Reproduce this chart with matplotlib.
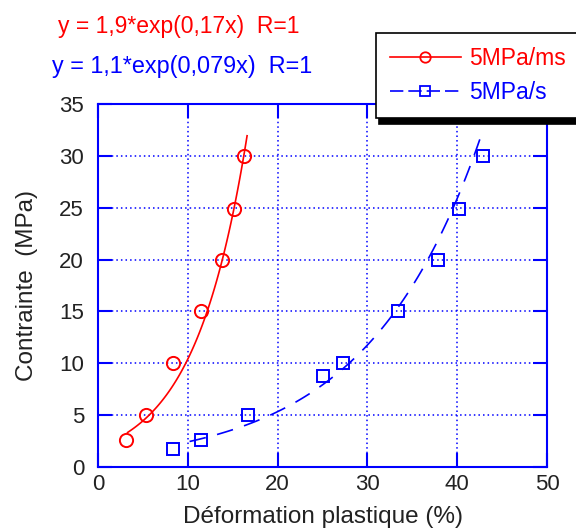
import numpy as np
import matplotlib
matplotlib.use("Agg")
import matplotlib.pyplot as plt

plt.rcParams['font.family'] = ['Liberation Sans', 'DejaVu Sans']

# measured points
red_x = [3.1, 5.4, 8.4, 11.5, 13.8, 15.1, 16.3]
red_y = [2.6, 5.0, 10.0, 15.0, 20.0, 24.9, 30.0]
blue_x = [8.4, 11.5, 16.7, 25.0, 27.3, 33.4, 37.8, 40.2, 42.8]
blue_y = [1.7, 2.6, 5.0, 8.8, 10.0, 15.0, 20.0, 24.9, 30.0]

# exponential fits as written on the chart: y = a*exp(b*x)
red_fit = (1.9, 0.17)
blue_fit = (1.1, 0.079)
red_range = (3.3, 16.6)
blue_range = (10.2, 42.9)

labels = ['5MPa/ms', '5MPa/s']
blue = '#0000ff'
red = '#ff0000'
txt = '#222222'

fig = plt.figure(figsize=(5.76, 5.28), dpi=100)
ax = fig.add_axes([0.170, 0.1155, 0.780, 0.6875])

# fit curves
xr = np.linspace(*red_range, 100)
ax.plot(xr, red_fit[0] * np.exp(red_fit[1] * xr), color=red, lw=1.2)
xb = np.linspace(*blue_range, 100)
ax.plot(xb, blue_fit[0] * np.exp(blue_fit[1] * xb), color=blue, lw=1.2,
        dashes=(10, 7))

# markers
ax.plot(red_x, red_y, 'o', ms=9.5, mfc='none', mec=red, mew=1.4)
ax.plot(blue_x, blue_y, 's', ms=9, mfc='none', mec=blue, mew=1.4)

# legend handles
h1, = ax.plot([], [], color=red, lw=1.2, marker='o', ms=7.5, mfc='none', mew=1.3)
h2, = ax.plot([], [], color=blue, lw=1.2, marker='s', ms=6.5, mfc='none', mew=1.3,
              dashes=(8, 3))

ax.set_xlim(0, 50)
ax.set_ylim(0, 35)
ax.set_xticks(range(0, 51, 10))
ax.set_yticks(range(0, 36, 5))
ax.grid(True, color=blue, ls=(0, (1, 2)), lw=1.1)
for s in ax.spines.values():
    s.set_color(blue)
    s.set_linewidth(1.5)
ax.tick_params(direction='in', length=10, width=1.5, color=blue,
               top=True, right=True, labelsize=16, labelcolor=txt)
ax.tick_params(axis='x', pad=5)
ax.tick_params(axis='y', pad=10)

ax.set_xlabel('Déformation plastique (%)', fontsize=17.5, color=txt, labelpad=8)
ax.set_ylabel('Contrainte  (MPa)', fontsize=17.5, color=txt, labelpad=15)

fig.text(58 / 576, 1 - 27 / 528, 'y = 1,9*exp(0,17x)  R=1', color=red,
         fontsize=16.5, va='center', ha='left')
fig.text(52 / 576, 1 - 67 / 528, 'y = 1,1*exp(0,079x)  R=1', color=blue,
         fontsize=16.8, va='center', ha='left')

leg = ax.legend([h1, h2], labels, loc='upper left',
                bbox_to_anchor=(376 / 576, 1 - 33 / 528),
                bbox_transform=fig.transFigure, fontsize=16.5, frameon=True,
                fancybox=False, handlelength=3.1, handletextpad=0.36,
                borderpad=0.6, labelspacing=0.5, borderaxespad=0,
                shadow={'color': 'black', 'alpha': 1, 'ox': 2, 'oy': -4})
leg.get_frame().set_edgecolor('black')
leg.get_frame().set_linewidth(1.2)
leg.texts[0].set_color(red)
leg.texts[1].set_color(blue)

fig.savefig('out.png', dpi=100)
